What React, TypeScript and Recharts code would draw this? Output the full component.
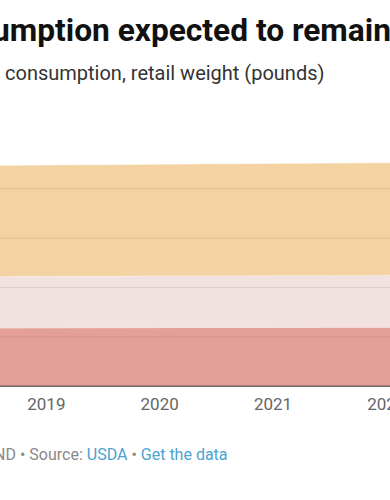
import { AreaChart, Area, XAxis, YAxis, ReferenceLine } from "recharts";

const YEARS = [2018, 2019, 2020, 2021, 2022, 2023];
const BEEF = [58.6, 59.0, 59.3, 59.5, 59.6, 59.7];
const PORK = [52.1, 52.3, 52.5, 52.6, 52.8, 52.9];
const POULTRY = [112.3, 112.7, 113.0, 113.4, 113.8, 114.0];
const GRID_TICKS = [50, 100, 150, 200];

const data = YEARS.map((year, i) => ({
	year,
	beef: BEEF[i],
	pork: PORK[i],
	poultry: POULTRY[i],
}));

const FONT = "Roboto, 'Noto Sans', sans-serif";

export default function App() {
	return (
		<div
			style={{
				position: "fixed",
				top: 0,
				left: 0,
				width: 390,
				height: 500,
				overflow: "hidden",
				background: "#fff",
				fontFamily: FONT,
			}}
		>
			{/* title, cut on both sides like the reference */}
			<div
				style={{
					position: "absolute",
					top: 12.3,
					left: -8,
					fontSize: 31.7,
					fontWeight: 700,
					color: "#111",
					whiteSpace: "nowrap",
					lineHeight: "normal",
				}}
			>
				<span style={{ position: "absolute", right: "100%" }}>Meat cons</span>
				umption expected to remain steady
			</div>
			<div
				style={{
					position: "absolute",
					top: 60.6,
					left: 5,
					fontSize: 20,
					color: "#333",
					whiteSpace: "nowrap",
					lineHeight: "normal",
				}}
			>
				<span style={{ position: "absolute", right: "100%" }}>
					Per capita red meat and poultry&nbsp;
				</span>
				consumption, retail weight (pounds)
			</div>

			<div style={{ position: "absolute", left: -67.3, top: 158.8 }}>
				<AreaChart
					width={566.7}
					height={257.2}
					data={data}
					margin={{ top: 0, right: 0, bottom: 0, left: 0 }}
				>
					<XAxis
						dataKey="year"
						type="number"
						domain={[2018, 2023]}
						ticks={YEARS}
						tickFormatter={(v) => String(v)}
						tickLine={false}
						tickSize={0}
						tickMargin={12}
						axisLine={{ stroke: "#333", strokeWidth: 1 }}
						tick={{ fill: "#666", fontSize: 17, fontFamily: FONT }}
						height={30}
						interval={0}
					/>
					<YAxis hide domain={[0, 230]} />
					<Area
						type="monotone"
						dataKey="beef"
						stackId="a"
						fill="#e3a098"
						fillOpacity={1}
						stroke="#fff"
						strokeOpacity={0.5}
						strokeWidth={1}
						isAnimationActive={false}
					/>
					<Area
						type="monotone"
						dataKey="pork"
						stackId="a"
						fill="#f2e1e1"
						fillOpacity={1}
						stroke="#fff"
						strokeOpacity={0.5}
						strokeWidth={1}
						isAnimationActive={false}
					/>
					<Area
						type="monotone"
						dataKey="poultry"
						stackId="a"
						fill="#f3d3a2"
						fillOpacity={1}
						stroke="#fff"
						strokeOpacity={0.5}
						strokeWidth={1}
						isAnimationActive={false}
					/>
					{GRID_TICKS.map((t) => (
						<ReferenceLine
							key={t}
							y={t}
							stroke="#000"
							strokeOpacity={0.09}
							strokeWidth={1}
						/>
					))}
				</AreaChart>
			</div>

			<div
				style={{
					position: "absolute",
					top: 444.5,
					left: 20,
					fontSize: 16,
					color: "#888",
					whiteSpace: "nowrap",
					lineHeight: "normal",
				}}
			>
				<span style={{ position: "absolute", right: "100%" }}>Chart: ND&nbsp;</span>
				• Source: <span style={{ color: "#4aa3d1" }}>USDA</span> •{" "}
				<span style={{ color: "#4aa3d1" }}>Get the data</span>
			</div>
		</div>
	);
}
